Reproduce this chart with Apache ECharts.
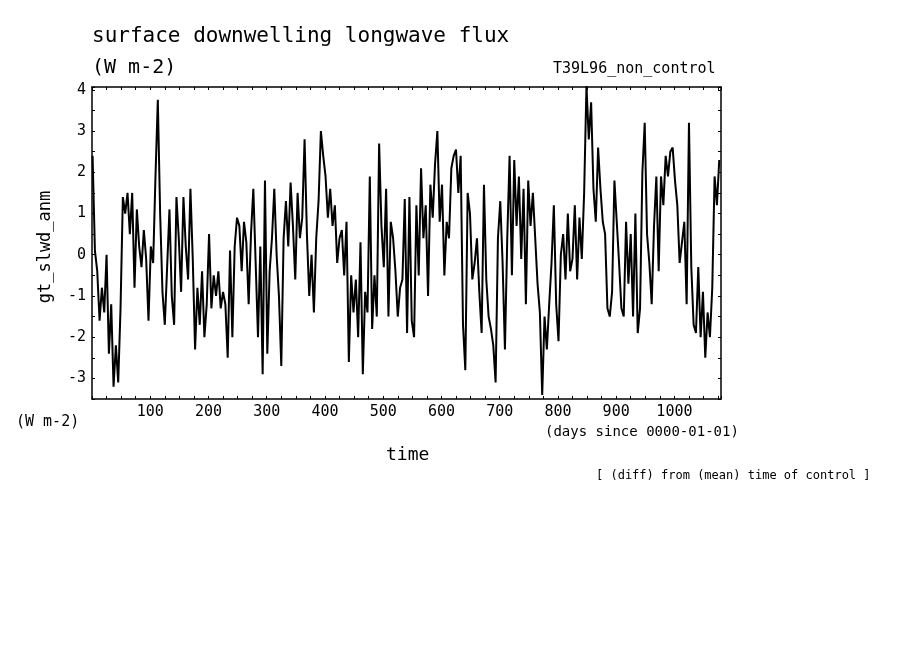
<!DOCTYPE html>
<html>
<head>
<meta charset="utf-8">
<script src="https://cdn.jsdelivr.net/npm/echarts@6/dist/echarts.min.js"></script>
<style>html,body{margin:0;padding:0;background:#fff}#main{width:904px;height:654px}</style>
</head>
<body>
<div id="main"></div>
<script>
"use strict";
// sampled every 4 days starting from day 1
var startDay = 1;
var stepDays = 4;
var anomaly = [
    // days 1-97
    2.4, 0.1, -0.4, -1.6, -0.8, -1.4, 0.0, -2.4, -1.2, -3.2, -2.2, -3.1, -1.3, 1.4, 1.0, 1.5, 0.5, 1.5, -0.8, 1.1, 0.2, -0.3, 0.6, -0.1, -1.6,
    // days 101-197
    0.2, -0.2, 1.9, 3.76, 1.0, -0.9, -1.7, -0.3, 1.1, -1.0, -1.7, 1.4, 0.4, -0.9, 1.4, 0.2, -0.6, 1.6, -0.1, -2.3, -0.8, -1.7, -0.4, -2.0, -1.2,
    // days 201-297
    0.5, -1.3, -0.5, -1.0, -0.4, -1.3, -0.9, -1.2, -2.5, 0.1, -2.0, 0.2, 0.9, 0.7, -0.4, 0.8, 0.3, -1.2, 0.5, 1.6, -0.2, -2.0, 0.2, -2.9, 1.8,
    // days 301-397
    -2.4, -0.4, 0.4, 1.6, 0.0, -1.0, -2.7, 0.4, 1.3, 0.2, 1.75, 0.7, -0.6, 1.5, 0.4, 0.9, 2.8, 0.5, -1.0, 0.0, -1.4, 0.4, 1.3, 3.0, 2.4,
    // days 401-497
    1.9, 0.9, 1.6, 0.7, 1.2, -0.2, 0.4, 0.6, -0.5, 0.8, -2.6, -0.5, -1.4, -0.6, -2.0, 0.3, -2.9, -0.9, -1.4, 1.9, -1.8, -0.5, -1.5, 2.7, 0.7,
    // days 501-597
    -0.3, 1.6, -1.5, 0.8, 0.4, -0.4, -1.5, -0.8, -0.6, 1.35, -1.9, 1.4, -1.6, -2.0, 1.2, -0.5, 2.1, 0.4, 1.2, -1.0, 1.7, 0.9, 2.2, 3.0, 0.8,
    // days 601-697
    1.7, -0.5, 0.8, 0.4, 2.1, 2.4, 2.55, 1.5, 2.4, -1.7, -2.8, 1.5, 1.0, -0.6, -0.2, 0.4, -0.9, -1.9, 1.7, -0.6, -1.5, -1.8, -2.2, -3.1, 0.4,
    // days 701-797
    1.3, -0.2, -2.3, 0.4, 2.4, -0.5, 2.3, 0.7, 1.9, -0.1, 1.6, -1.2, 1.8, 0.7, 1.5, 0.4, -0.7, -1.4, -3.4, -1.5, -2.3, -1.2, -0.2, 1.2, -1.2,
    // days 801-897
    -2.1, 0.0, 0.5, -0.6, 1.0, -0.4, -0.1, 1.2, -0.6, 0.9, -0.1, 1.5, 4.1, 2.8, 3.7, 1.6, 0.8, 2.6, 1.6, 0.8, 0.5, -1.3, -1.5, -0.9, 1.8,
    // days 901-997
    0.8, -0.2, -1.3, -1.5, 0.8, -0.7, 0.5, -1.5, 1.0, -1.9, -1.3, 2.0, 3.2, 0.5, -0.2, -1.2, 0.7, 1.9, -0.4, 1.9, 1.2, 2.4, 1.9, 2.5, 2.6,
    // days 1001-1077
    1.8, 1.2, -0.2, 0.3, 0.8, -1.2, 3.2, -0.3, -1.7, -1.9, -0.3, -2.0, -0.9, -2.5, -1.4, -2.0, -0.8, 1.9, 1.2, 2.3
];
var xTickLabels = [100, 200, 300, 400, 500, 600, 700, 800, 900, 1000];
var yTickLabels = [-3, -2, -1, 0, 1, 2, 3, 4];

var points = anomaly.map(function (v, i) {
    return [startDay + i * stepDays, v];
});

var chartDom = document.getElementById('main');
var myChart = echarts.init(chartDom);
var font = "DejaVu Sans Mono";
var axisLine = { show: true, onZero: false, lineStyle: { color: '#000', width: 1.5 } };
var tick = { inside: true, length: 3, lineStyle: { color: '#000' } };

var option = {
    animation: false,
    grid: { left: 92, top: 87, width: 629, height: 312 },
    xAxis: [{
        type: 'value', min: 0, max: 1080, interval: 25,
        axisLine: axisLine, axisTick: tick,
        axisLabel: {
            color: '#000', fontFamily: font, fontSize: 15, margin: 6,
            formatter: function (v) { return xTickLabels.indexOf(v) >= 0 ? String(v) : ''; }
        },
        splitLine: { show: false }
    }, {
        type: 'value', position: 'top', min: 0, max: 1080, interval: 25,
        axisLine: axisLine, axisTick: tick,
        axisLabel: { show: false }, splitLine: { show: false }
    }],
    yAxis: [{
        type: 'value', min: -3.5, max: 4.07, interval: 0.5,
        axisLine: axisLine, axisTick: tick,
        axisLabel: {
            color: '#000', fontFamily: font, fontSize: 15, margin: 6,
            formatter: function (v) { return yTickLabels.indexOf(v) >= 0 ? String(v) : ''; }
        },
        splitLine: { show: false }
    }, {
        type: 'value', position: 'right', min: -3.5, max: 4.07, interval: 0.5,
        axisLine: axisLine, axisTick: tick,
        axisLabel: { show: false }, splitLine: { show: false }
    }],
    series: [{
        type: 'line', data: points, showSymbol: false, clip: true,
        lineStyle: { color: '#000', width: 2 }
    }, {
        type: 'line', xAxisIndex: 1, yAxisIndex: 1, data: [], showSymbol: false
    }],
    graphic: [
        { type: 'text', left: 92, top: 26, style: { text: 'surface downwelling longwave flux', font: '21px ' + font, fill: '#000' } },
        { type: 'text', left: 92, top: 58, style: { text: '(W m-2)', font: '20px ' + font, fill: '#000' } },
        { type: 'text', left: 553, top: 62, style: { text: 'T39L96_non_control', font: '15px ' + font, fill: '#000' } },
        { type: 'text', x: 46, y: 247, rotation: Math.PI / 2, style: { text: 'gt_slwd_anm', font: '17px ' + font, fill: '#000', align: 'center', verticalAlign: 'middle' } },
        { type: 'text', left: 16, top: 415, style: { text: '(W m-2)', font: '15px ' + font, fill: '#000' } },
        { type: 'text', left: 386, top: 446, style: { text: 'time', font: '18px ' + font, fill: '#000' } },
        { type: 'text', left: 545, top: 425, style: { text: '(days since 0000-01-01)', font: '14px ' + font, fill: '#000' } },
        { type: 'text', left: 596, top: 470, style: { text: '[ (diff) from (mean) time of control ]', font: '12px ' + font, fill: '#000' } }
    ]
};
myChart.setOption(option);
</script>
</body>
</html>
